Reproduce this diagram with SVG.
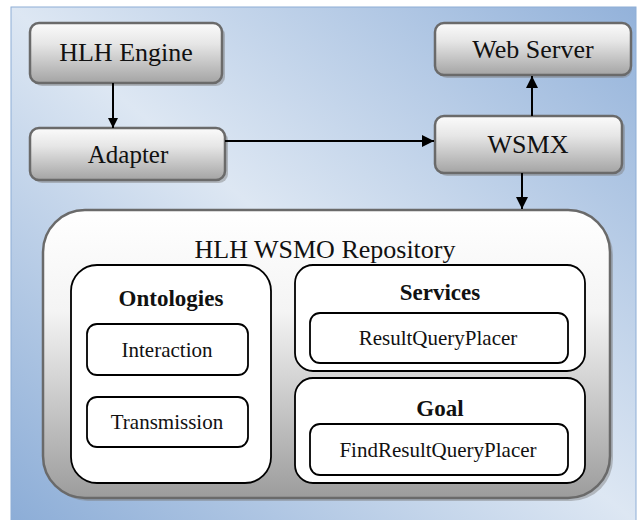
<svg xmlns="http://www.w3.org/2000/svg" width="640" height="520" viewBox="0 0 640 520">
<defs>
<linearGradient id="bg" x1="1" y1="0" x2="0" y2="1">
<stop offset="0" stop-color="#93b2da"/>
<stop offset="0.5" stop-color="#dde7f3"/>
<stop offset="1" stop-color="#8cadd7"/>
</linearGradient>
<linearGradient id="node" x1="0" y1="0" x2="0" y2="1">
<stop offset="0" stop-color="#fbfbfb"/>
<stop offset="0.35" stop-color="#e6e6e6"/>
<stop offset="1" stop-color="#a4a4a4"/>
</linearGradient>
<linearGradient id="repo" x1="0" y1="0" x2="0" y2="1">
<stop offset="0" stop-color="#ffffff"/>
<stop offset="0.35" stop-color="#f4f4f4"/>
<stop offset="1" stop-color="#9c9c9c"/>
</linearGradient>
<marker id="arr" viewBox="0 0 10 10" refX="10" refY="5" markerWidth="10" markerHeight="10" markerUnits="userSpaceOnUse" orient="auto">
<path d="M0,0 L10,5 L0,10 z" fill="#000"/>
</marker>
<marker id="arrb" viewBox="0 0 12 12" refX="12" refY="6" markerWidth="12" markerHeight="12" markerUnits="userSpaceOnUse" orient="auto">
<path d="M0,0 L12,6 L0,12 z" fill="#000"/>
</marker>
</defs>
<style>
.shadow{fill:#7c7c7c;opacity:0.45}
.box{fill:url(#node);stroke:#6a6a6a;stroke-width:2.5}
.inner{fill:#fff;stroke:#000;stroke-width:1.8}
.conn{stroke:#000;stroke-width:2;fill:none}
text{font-family:'Liberation Serif','Times New Roman',serif;fill:#111;text-anchor:middle}
</style>
<rect x="11" y="7" width="625" height="515" fill="url(#bg)" stroke="#8eaed6" stroke-width="1"/>

<g id="hlh-engine">
<rect class="shadow" x="33" y="26" width="192" height="60" rx="9"/>
<rect class="box" x="30" y="23" width="192" height="60" rx="9"/>
<text x="126" y="61" font-size="26">HLH Engine</text>
</g>
<g id="adapter">
<rect class="shadow" x="33" y="131" width="195" height="52" rx="9"/>
<rect class="box" x="30" y="128" width="195" height="52" rx="9"/>
<text x="128" y="163" font-size="25">Adapter</text>
</g>
<g id="web-server">
<rect class="shadow" x="438" y="26" width="194" height="52" rx="9"/>
<rect class="box" x="435" y="23" width="196" height="52" rx="9"/>
<text x="533" y="58" font-size="26">Web Server</text>
</g>
<g id="wsmx">
<rect class="shadow" x="438" y="119" width="187" height="57" rx="9"/>
<rect class="box" x="435" y="116" width="187" height="57" rx="9"/>
<text x="528" y="153" font-size="26">WSMX</text>
</g>

<g id="repository">
<rect class="shadow" x="46" y="213" width="567" height="288" rx="42"/>
<rect x="43" y="210" width="567" height="288" rx="42" fill="url(#repo)" stroke="#6a6a6a" stroke-width="2.5"/>
<text x="325" y="258" font-size="26">HLH WSMO Repository</text>
</g>
<g id="ontologies">
<rect class="inner" x="71" y="265" width="200" height="218" rx="26"/>
<text x="171" y="306" font-size="23" font-weight="bold">Ontologies</text>
</g>
<g id="interaction">
<rect class="inner" x="87" y="324" width="161" height="51" rx="10"/>
<text x="167" y="357" font-size="21">Interaction</text>
</g>
<g id="transmission">
<rect class="inner" x="87" y="397" width="161" height="50" rx="10"/>
<text x="167" y="429" font-size="21">Transmission</text>
</g>
<g id="services">
<rect class="inner" x="295" y="265" width="290" height="106" rx="18"/>
<text x="440" y="300" font-size="23" font-weight="bold">Services</text>
</g>
<g id="result-query-placer">
<rect class="inner" x="310" y="313" width="258" height="50" rx="10"/>
<text x="438" y="345" font-size="21">ResultQueryPlacer</text>
</g>
<g id="goal">
<rect class="inner" x="295" y="378" width="290" height="105" rx="18"/>
<text x="440" y="416" font-size="23" font-weight="bold">Goal</text>
</g>
<g id="find-result-query-placer">
<rect class="inner" x="310" y="424" width="258" height="51" rx="10"/>
<text x="438" y="457" font-size="21">FindResultQueryPlacer</text>
</g>

<g id="connectors">
<line class="conn" x1="113" y1="83" x2="113" y2="128" marker-end="url(#arr)"/>
<line class="conn" x1="225" y1="141" x2="434" y2="141" marker-end="url(#arrb)"/>
<line class="conn" x1="532" y1="116" x2="532" y2="76" marker-end="url(#arrb)"/>
<line class="conn" x1="522" y1="173" x2="522" y2="209" marker-end="url(#arrb)"/>
</g>
</svg>
